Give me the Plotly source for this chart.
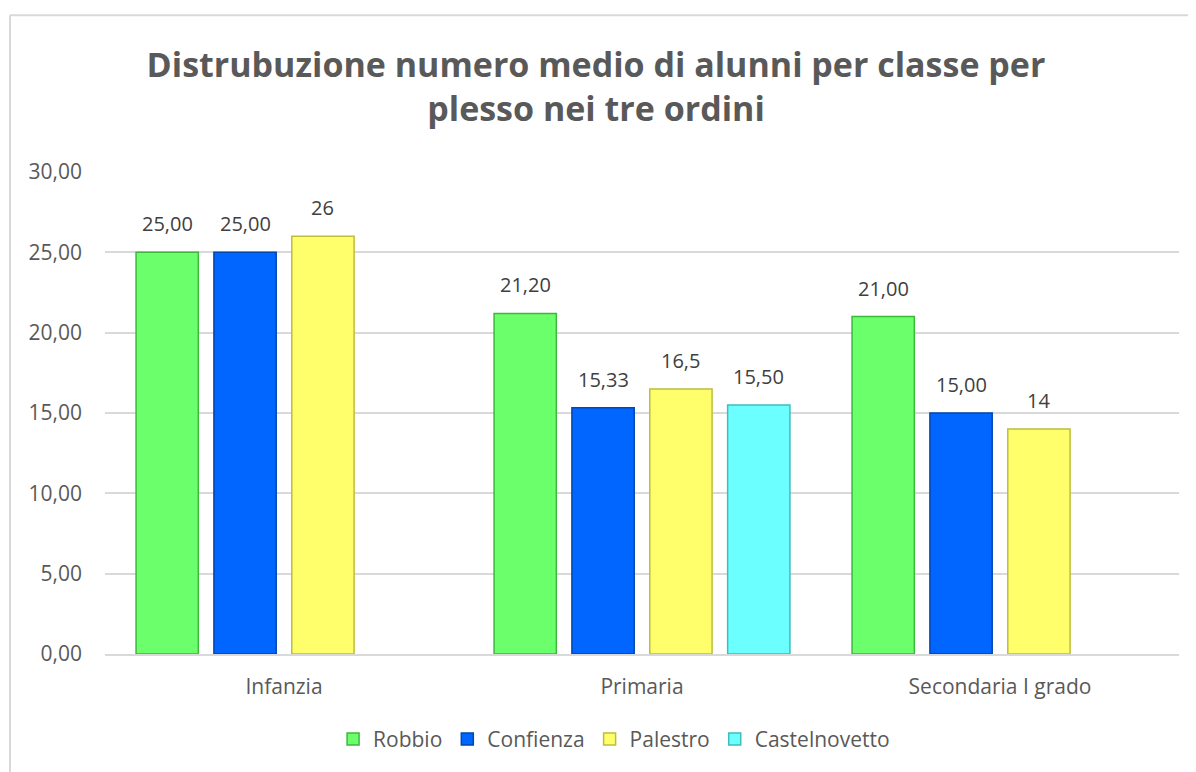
import plotly.graph_objects as go

categories = ["Infanzia", "Primaria", "Secondaria I grado"]
series_names = ["Robbio", "Confienza", "Palestro", "Castelnovetto"]
robbio = [25.00, 21.20, 21.00]
confienza = [25.00, 15.33, 15.00]
palestro = [26, 16.5, 14]
castelnovetto = [None, 15.50, None]
label_robbio = ["25,00", "21,20", "21,00"]
label_confienza = ["25,00", "15,33", "15,00"]
label_palestro = ["26", "16,5", "14"]
label_castelnovetto = ["", "15,50", ""]
y_ticks = [0, 5, 10, 15, 20, 25, 30]

fill_colors = ["#6BFF6B", "#0066FF", "#FFFF6B", "#6BFFFF"]
line_colors = ["#3DB83D", "#0047B0", "#BDBD3D", "#3DBDBD"]
values = [robbio, confienza, palestro, castelnovetto]
labels = [label_robbio, label_confienza, label_palestro, label_castelnovetto]

FONT = "Open Sans"
BARGAP = 0.13
N_SERIES = len(series_names)

# page body has an 8px margin in the browser
W, H = 1188, 764
PL, PT, PW, PH = 97, 164, 1074, 486

fig = go.Figure()
for name, vals, fc, lc in zip(series_names, values, fill_colors, line_colors):
    fig.add_trace(go.Bar(
        name=name, x=categories, y=vals,
        marker=dict(color=fc, line=dict(color=lc, width=1.5)),
    ))

# data labels, placed above each bar using the axis scales
slot = (1 - BARGAP) / N_SERIES
for si, (vals, labs) in enumerate(zip(values, labels)):
    for ci, (v, lab) in enumerate(zip(vals, labs)):
        if v is None or not lab:
            continue
        fig.add_annotation(
            x=ci + (si - (N_SERIES - 1) / 2) * slot, y=v, xref="x", yref="y",
            text=lab, showarrow=False, yanchor="bottom", yshift=13,
            font=dict(family=FONT, size=20, color="#404040"),
        )

fig.update_layout(
    width=W, height=H,
    paper_bgcolor="white", plot_bgcolor="white",
    separators=",.",
    barmode="group", bargap=BARGAP, bargroupgap=0.2,
    margin=dict(l=PL, r=W - PL - PW, t=PT, b=H - PT - PH),
    title=dict(
        text="Distrubuzione numero medio di alunni per classe per<br>plesso nei tre ordini",
        x=(596 - 8) / W, xanchor="center", xref="container",
        y=1 - 69 / H, yanchor="middle", yref="container",
        font=dict(family=FONT, size=34, color="#595959", weight="bold"),
    ),
    legend=dict(
        orientation="h", x=0.474, xanchor="center", y=-0.177, yanchor="middle",
        font=dict(family=FONT, size=21, color="#595959"),
        itemwidth=30, traceorder="normal",
    ),
    showlegend=True,
)
fig.update_xaxes(
    showgrid=False, showline=True, linecolor="#D9D9D9", linewidth=2,
    tickfont=dict(family=FONT, size=21, color="#595959"), ticks="",
    ticklabelstandoff=13,
)
fig.update_yaxes(
    range=[0, 30], tickvals=y_ticks, tickformat=".2f",
    showgrid=True, gridcolor="#D9D9D9", gridwidth=1.5, zeroline=False,
    showline=False, ticks="", ticklabelstandoff=22,
    tickfont=dict(family=FONT, size=21, color="#595959"),
)
bx = (10 - 105) / PW
by = (656 - 12) / PH
fig.add_shape(type="line", xref="paper", yref="paper",
              x0=bx, x1=bx, y0=-0.3, y1=by,
              line=dict(color="#D9D9D9", width=2))
fig.add_shape(type="line", xref="paper", yref="paper",
              x0=bx, x1=1.1, y0=by, y1=by,
              line=dict(color="#D9D9D9", width=2))

fig.write_html("out.html")
